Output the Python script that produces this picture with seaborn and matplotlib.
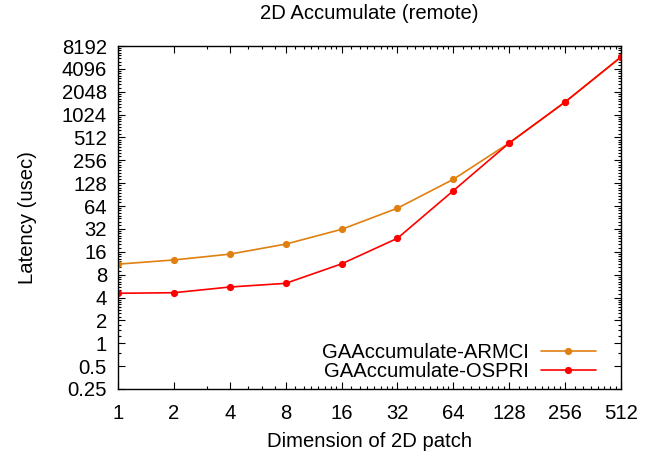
import numpy as np
import pandas as pd
import matplotlib
matplotlib.use("Agg")
import matplotlib.pyplot as plt
import seaborn as sns

# Patch dimensions (N for an N x N patch)
patch_dim = [1, 2, 4, 8, 16, 32, 64, 128, 256, 512]
# Latency in microseconds
armci_latency = [11.0, 12.5, 14.9, 20.2, 31.6, 60.0, 144.0, 433.0, 1500.0, 5870.0]
ospri_latency = [4.55, 4.63, 5.5, 6.15, 11.1, 24.1, 102.0, 433.0, 1500.0, 5870.0]

series_names = ["GAAccumulate-ARMCI", "GAAccumulate-OSPRI"]
series_colors = ["#e08010", "#ff0000"]

x_ticks = [1, 2, 4, 8, 16, 32, 64, 128, 256, 512]
y_ticks = [0.25, 0.5, 1, 2, 4, 8, 16, 32, 64, 128, 256, 512, 1024, 2048, 4096, 8192]
y_tick_labels = ["0.25", "0.5", "1", "2", "4", "8", "16", "32", "64", "128",
                 "256", "512", "1024", "2048", "4096", "8192"]

df = pd.DataFrame({
    "dim": patch_dim * 2,
    "latency": armci_latency + ospri_latency,
    "series": [series_names[0]] * len(patch_dim) + [series_names[1]] * len(patch_dim),
})

sns.set_theme(style="ticks")
plt.rcParams["font.family"] = ["Liberation Sans", "DejaVu Sans"]
plt.rcParams["text.color"] = "black"
plt.rcParams["axes.labelcolor"] = "black"
FS = 14.6
plt.rcParams["font.size"] = FS

fig = plt.figure(figsize=(6.52, 4.54), dpi=100)
ax = fig.add_axes([118 / 652, 1 - 389 / 454, (621 - 118) / 652, (389 - 46) / 454])

for name, color in zip(series_names, series_colors):
    sub = df[df["series"] == name]
    sns.lineplot(data=sub, x="dim", y="latency", ax=ax, color=color,
                 marker="o", markersize=5.2, markeredgewidth=0, linewidth=1.2,
                 label=name, estimator=None, sort=False)

ax.set_xscale("log", base=2)
ax.set_yscale("log", base=2)
ax.set_xlim(1, 512)
ax.set_ylim(0.25, 8192)


def minor_positions(majors, floor_step):
    pos = []
    for lo, hi in zip(majors[:-1], majors[1:]):
        step = max(lo / 8.0, floor_step)
        v = lo + step
        while v < hi - 1e-9:
            pos.append(v)
            v += step
    return pos


ax.set_xticks(x_ticks, [str(v) for v in x_ticks])
ax.set_yticks(y_ticks, y_tick_labels)
ax.set_xticks(minor_positions(x_ticks, 1.0), minor=True)
ax.set_yticks(minor_positions(y_ticks, 0.25), minor=True)
ax.tick_params(which="both", direction="in", top=True, right=True, colors="black",
               labelsize=FS, width=0.8)
ax.tick_params(which="major", length=5)
ax.tick_params(which="minor", length=2.3, labelbottom=False, labelleft=False)
ax.tick_params(axis="x", which="major", pad=10.5)
ax.tick_params(axis="y", which="major", pad=8)

for s in ax.spines.values():
    s.set_visible(True)
    s.set_color("black")
    s.set_linewidth(1.0)

ax.set_title("2D Accumulate (remote)", fontsize=FS, pad=19.5, color="black")
ax.set_xlabel("Dimension of 2D patch", fontsize=FS, labelpad=7, color="black")
ax.set_ylabel("Latency (usec)", fontsize=FS, labelpad=18, color="black")

leg = ax.legend(loc="lower right", frameon=False, markerfirst=False, fontsize=FS,
                handlelength=2.7, borderaxespad=0.6, labelspacing=0.0,
                handletextpad=0.6, bbox_to_anchor=(0.99, -0.035))
for t in leg.get_texts():
    t.set_color("black")

fig.savefig("out.png", dpi=100)
